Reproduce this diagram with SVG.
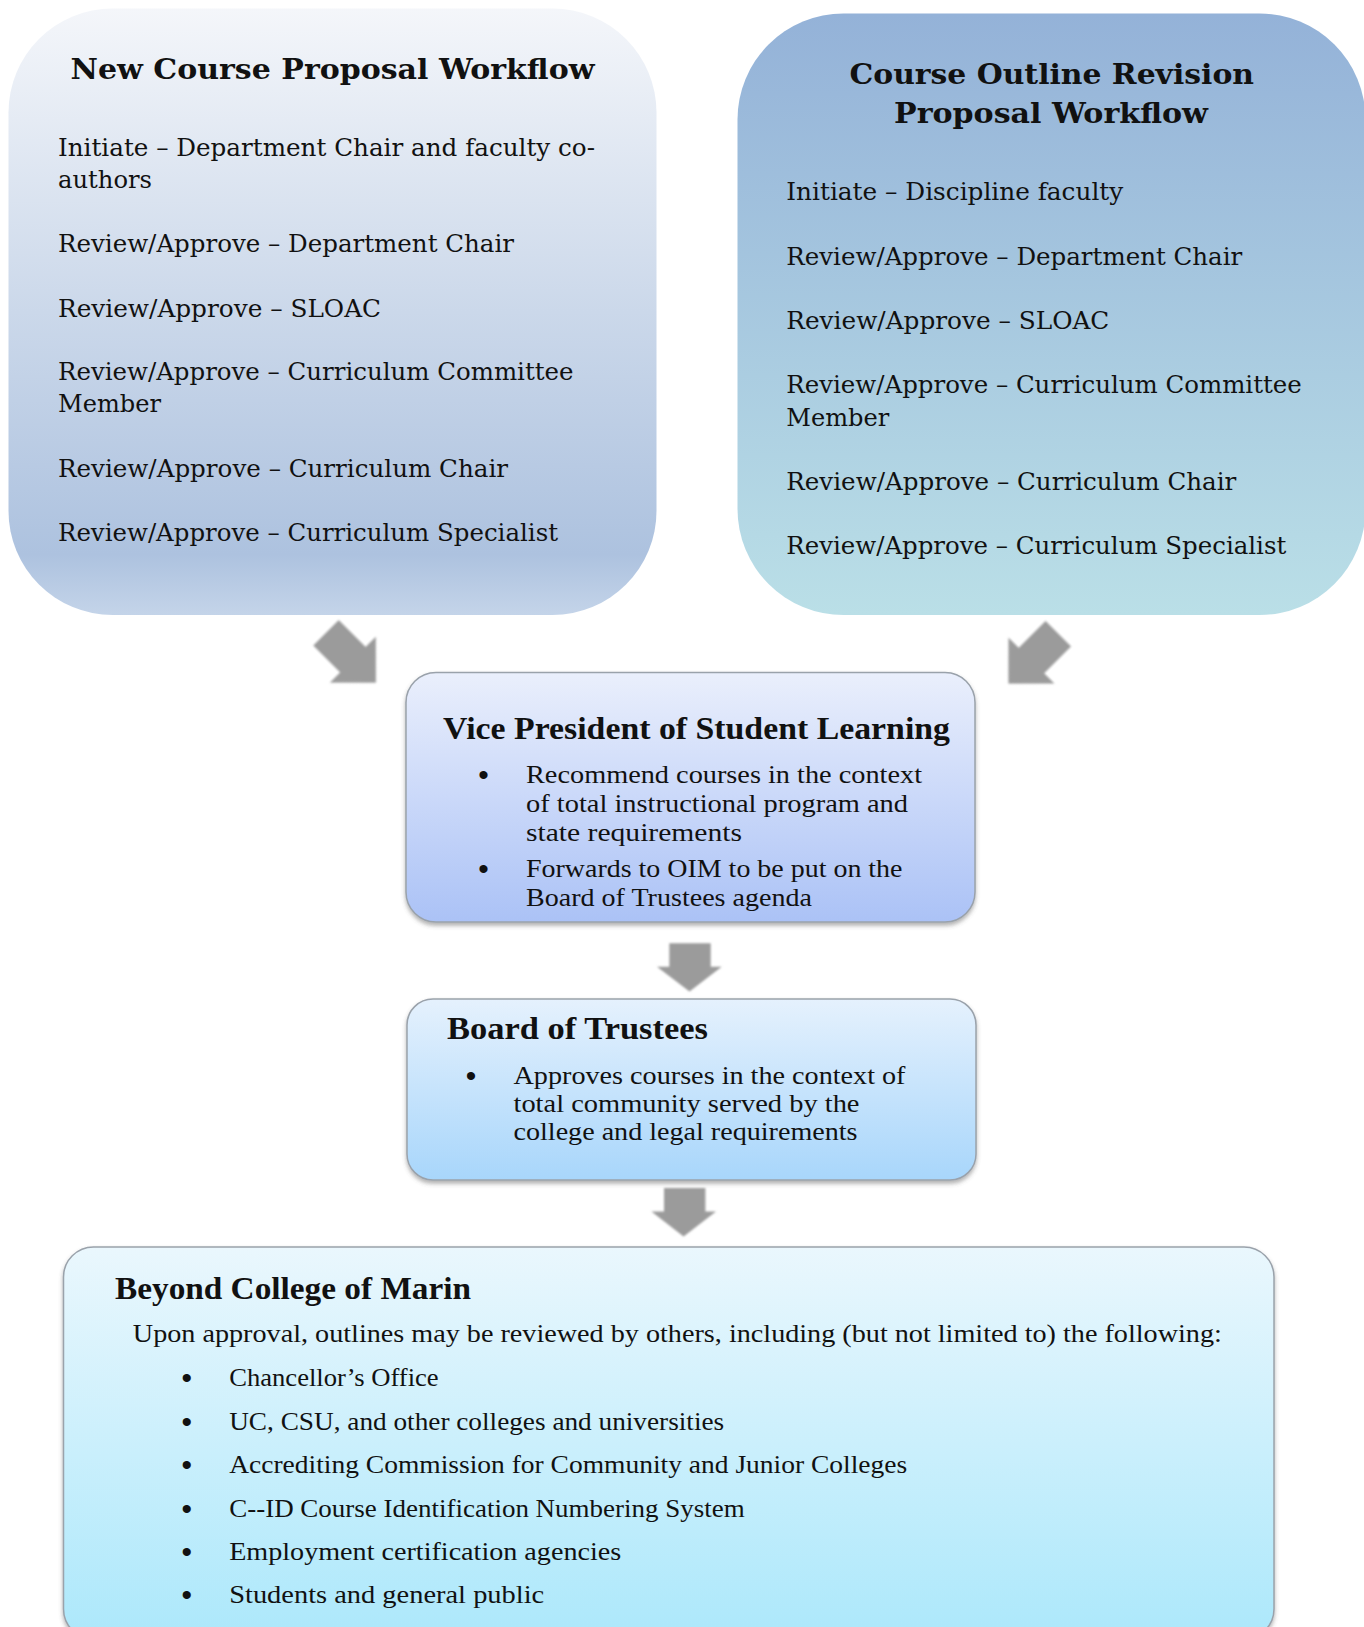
<svg xmlns="http://www.w3.org/2000/svg" width="1364" height="1627" viewBox="0 0 1364 1627">
<defs>
<style>
.sch{font-family:"DejaVu Serif","Liberation Serif",serif;font-size:23.5px;fill:#111}
.scht{font-family:"DejaVu Serif","Liberation Serif",serif;font-size:28.5px;font-weight:bold;fill:#111}
.cam{font-family:"Liberation Serif","DejaVu Serif",serif;font-size:25px;fill:#111}
.camt{font-family:"Liberation Serif","DejaVu Serif",serif;font-size:31px;font-weight:bold;fill:#111}
.bul{font-family:"Liberation Sans",sans-serif;font-size:30px;fill:#111;text-anchor:middle}
.box{stroke:#9aa2ab;stroke-width:1.5}
.arr{fill:#9b9b9b;filter:url(#blur)}
</style>
<linearGradient id="gL" x1="0" y1="0" x2="0" y2="1">
<stop offset="0" stop-color="#f4f6fa"/>
<stop offset="0.5" stop-color="#cbd8ea"/>
<stop offset="0.9" stop-color="#adc2df"/>
<stop offset="1" stop-color="#c4d4e9"/>
</linearGradient>
<linearGradient id="gR" x1="0" y1="0" x2="0" y2="1">
<stop offset="0" stop-color="#94b2d8"/>
<stop offset="1" stop-color="#badfe7"/>
</linearGradient>
<linearGradient id="gVP" x1="0" y1="0" x2="0" y2="1">
<stop offset="0" stop-color="#eaeffc"/>
<stop offset="1" stop-color="#abc2f6"/>
</linearGradient>
<linearGradient id="gB" x1="0" y1="0" x2="0" y2="1">
<stop offset="0" stop-color="#e5f1fd"/>
<stop offset="1" stop-color="#a8d6fb"/>
</linearGradient>
<linearGradient id="gM" x1="0" y1="0" x2="0" y2="1">
<stop offset="0" stop-color="#eaf7fd"/>
<stop offset="1" stop-color="#ace8fb"/>
</linearGradient>
<filter id="shadow" x="-5%" y="-5%" width="110%" height="115%">
<feDropShadow dx="0" dy="3" stdDeviation="2" flood-color="#555" flood-opacity="0.45"/>
</filter>
<filter id="blur" x="-20%" y="-20%" width="140%" height="140%">
<feGaussianBlur stdDeviation="1.3"/>
</filter>
<polygon id="diag" points="0,-18 38,-18 38,-32.5 70.6,0 38,32.5 38,18 0,18"/>
</defs>
<rect width="1364" height="1627" fill="#ffffff"/>

<g id="new-course">
<rect x="8.5" y="8.5" width="648" height="606.5" rx="104" ry="104" fill="url(#gL)"/>
<text class="scht" x="70.5" y="79" textLength="524" lengthAdjust="spacingAndGlyphs">New Course Proposal Workflow</text>
<text class="sch" x="58" y="156" textLength="537" lengthAdjust="spacingAndGlyphs">Initiate – Department Chair and faculty co-</text>
<text class="sch" x="58" y="188" textLength="94" lengthAdjust="spacingAndGlyphs">authors</text>
<text class="sch" x="58" y="252" textLength="456" lengthAdjust="spacingAndGlyphs">Review/Approve – Department Chair</text>
<text class="sch" x="58" y="316.5" textLength="323" lengthAdjust="spacingAndGlyphs">Review/Approve – SLOAC</text>
<text class="sch" x="58" y="380" textLength="515.5" lengthAdjust="spacingAndGlyphs">Review/Approve – Curriculum Committee</text>
<text class="sch" x="58" y="412" textLength="103" lengthAdjust="spacingAndGlyphs">Member</text>
<text class="sch" x="58" y="477" textLength="450" lengthAdjust="spacingAndGlyphs">Review/Approve – Curriculum Chair</text>
<text class="sch" x="58" y="540.5" textLength="500" lengthAdjust="spacingAndGlyphs">Review/Approve – Curriculum Specialist</text>
</g>

<g id="revision">
<rect x="737.5" y="13.5" width="628" height="601.5" rx="106" ry="106" fill="url(#gR)"/>
<text class="scht" x="849.5" y="84" textLength="404.5" lengthAdjust="spacingAndGlyphs">Course Outline Revision</text>
<text class="scht" x="894" y="122.5" textLength="314" lengthAdjust="spacingAndGlyphs">Proposal Workflow</text>
<text class="sch" x="786.3" y="200" textLength="337" lengthAdjust="spacingAndGlyphs">Initiate – Discipline faculty</text>
<text class="sch" x="786.3" y="264.5" textLength="456" lengthAdjust="spacingAndGlyphs">Review/Approve – Department Chair</text>
<text class="sch" x="786.3" y="329" textLength="323" lengthAdjust="spacingAndGlyphs">Review/Approve – SLOAC</text>
<text class="sch" x="786.3" y="393" textLength="515.5" lengthAdjust="spacingAndGlyphs">Review/Approve – Curriculum Committee</text>
<text class="sch" x="786.3" y="425.5" textLength="103" lengthAdjust="spacingAndGlyphs">Member</text>
<text class="sch" x="786.3" y="489.5" textLength="450" lengthAdjust="spacingAndGlyphs">Review/Approve – Curriculum Chair</text>
<text class="sch" x="786.3" y="554" textLength="500" lengthAdjust="spacingAndGlyphs">Review/Approve – Curriculum Specialist</text>
</g>

<g id="vp">
<rect class="box" x="406" y="672.5" width="569" height="249.5" rx="30" ry="30" fill="url(#gVP)" filter="url(#shadow)"/>
<text class="camt" x="443" y="738.5" textLength="507" lengthAdjust="spacingAndGlyphs">Vice President of Student Learning</text>
<text class="bul" x="483.5" y="785">•</text>
<text class="cam" x="526" y="783" textLength="396" lengthAdjust="spacingAndGlyphs">Recommend courses in the context</text>
<text class="cam" x="526" y="812" textLength="382" lengthAdjust="spacingAndGlyphs">of total instructional program and</text>
<text class="cam" x="526" y="840.5" textLength="216" lengthAdjust="spacingAndGlyphs">state requirements</text>
<text class="bul" x="483.5" y="878.5">•</text>
<text class="cam" x="526" y="876.5" textLength="376.5" lengthAdjust="spacingAndGlyphs">Forwards to OIM to be put on the</text>
<text class="cam" x="526" y="905.5" textLength="286" lengthAdjust="spacingAndGlyphs">Board of Trustees agenda</text>
</g>

<g id="board">
<rect class="box" x="407" y="999" width="569" height="181" rx="26" ry="26" fill="url(#gB)" filter="url(#shadow)"/>
<text class="camt" x="447" y="1038.5" textLength="261" lengthAdjust="spacingAndGlyphs">Board of Trustees</text>
<text class="bul" x="471" y="1086">•</text>
<text class="cam" x="513.5" y="1084" textLength="392" lengthAdjust="spacingAndGlyphs">Approves courses in the context of</text>
<text class="cam" x="513.5" y="1112" textLength="346" lengthAdjust="spacingAndGlyphs">total community served by the</text>
<text class="cam" x="513.5" y="1140" textLength="344" lengthAdjust="spacingAndGlyphs">college and legal requirements</text>
</g>

<g id="beyond">
<rect class="box" x="63.5" y="1247" width="1210.5" height="392" rx="30" ry="30" fill="url(#gM)" filter="url(#shadow)"/>
<text class="camt" x="115" y="1298.5" textLength="356" lengthAdjust="spacingAndGlyphs">Beyond College of Marin</text>
<text class="cam" x="132.8" y="1342.3" textLength="1089" lengthAdjust="spacingAndGlyphs">Upon approval, outlines may be reviewed by others, including (but not limited to) the following:</text>
<text class="bul" x="186.7" y="1388">•</text>
<text class="cam" x="229.2" y="1386" textLength="209.5" lengthAdjust="spacingAndGlyphs">Chancellor’s Office</text>
<text class="bul" x="186.7" y="1431.5">•</text>
<text class="cam" x="229.2" y="1429.5" textLength="495" lengthAdjust="spacingAndGlyphs">UC, CSU, and other colleges and universities</text>
<text class="bul" x="186.7" y="1475">•</text>
<text class="cam" x="229.2" y="1473" textLength="678" lengthAdjust="spacingAndGlyphs">Accrediting Commission for Community and Junior Colleges</text>
<text class="bul" x="186.7" y="1518.5">•</text>
<text class="cam" x="229.2" y="1516.5" textLength="515.5" lengthAdjust="spacingAndGlyphs">C-‐ID Course Identification Numbering System</text>
<text class="bul" x="186.7" y="1562">•</text>
<text class="cam" x="229.2" y="1560" textLength="392" lengthAdjust="spacingAndGlyphs">Employment certification agencies</text>
<text class="bul" x="186.7" y="1604.5">•</text>
<text class="cam" x="229.2" y="1602.5" textLength="315" lengthAdjust="spacingAndGlyphs">Students and general public</text>
</g>

<g id="connectors">
<use href="#diag" class="arr" transform="translate(326,632.8) rotate(45)"/>
<use href="#diag" class="arr" transform="translate(1058.3,633.7) rotate(135)"/>
<polygon class="arr" points="669.3,943.3 710.7,943.3 710.7,966.7 721.7,966.7 689.5,991.5 657,966.7 669.3,966.7"/>
<polygon class="arr" points="664,1188 705.4,1188 705.4,1211.6 716,1211.6 683.6,1236.4 651.4,1211.6 664,1211.6"/>
</g>
</svg>
